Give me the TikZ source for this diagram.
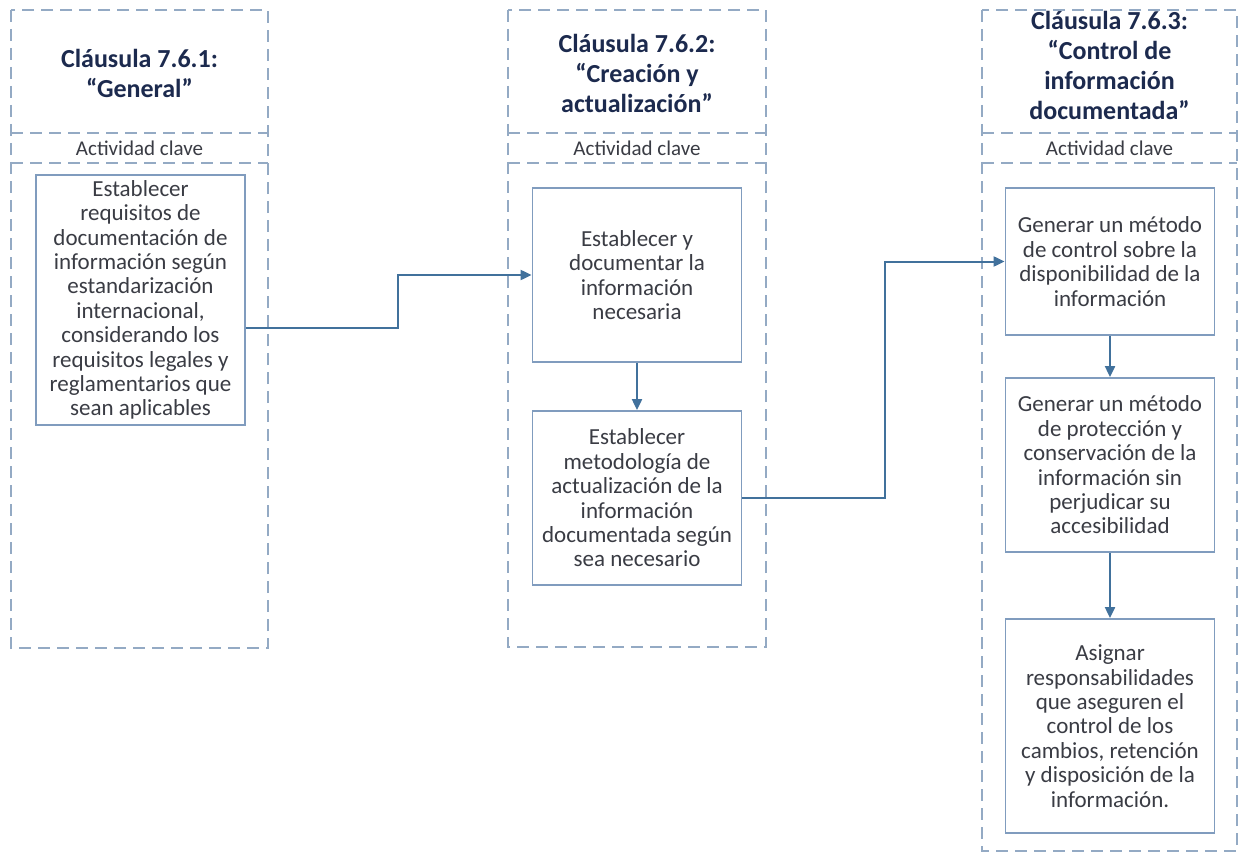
\documentclass[tikz,border=0pt]{standalone}
\usepackage{fontspec}
\setmainfont{Carlito}
\usetikzlibrary{arrows.meta}

\definecolor{framecol}{RGB}{148,170,196}
\definecolor{boxcol}{RGB}{128,156,190}
\definecolor{arrowcol}{RGB}{65,113,156}
\definecolor{titlecol}{RGB}{28,42,78}
\definecolor{textcol}{RGB}{58,60,68}

\tikzset{
  frame/.style={draw=framecol, line width=1.5pt, dash pattern=on 12pt off 7pt},
  divider/.style={draw=framecol, line width=1.5pt, dash pattern=on 12pt off 7pt},
  clausetitle/.style={align=center, text=titlecol, inner sep=0pt,
    font=\fontsize{26}{30}\selectfont\bfseries},
  keylabel/.style={align=center, text=textcol, inner sep=0pt,
    font=\fontsize{21}{24}\selectfont},
  actbox/.style={draw=boxcol, line width=1.8pt, fill=white, align=center,
    text=textcol, inner sep=0pt, minimum width=209pt,
    font=\fontsize{23}{24.4}\selectfont},
  flow/.style={draw=arrowcol, line width=2pt,
    -{Triangle[length=11pt,width=10pt]}}
}

\begin{document}
\begin{tikzpicture}[x=1pt,y=-1pt]
\useasboundingbox[fill=white] (0,0) rectangle (1238,853);

% column frames with their header dividers
\draw[frame] (11,10) rectangle (268,648);
\draw[frame] (508,10) rectangle (766,647);
\draw[frame] (982,10) rectangle (1237,851);
\foreach \xa/\xb in {11/268, 508/766, 982/1237}{
  \draw[divider] (\xa,133) -- (\xb,133);
  \draw[divider] (\xa,163) -- (\xb,163);
}

% clause headings
\node[clausetitle] (t1) at (139.5,73) {Cláusula 7.6.1:\\“General”};
\node[clausetitle] (t2) at (637,73) {Cláusula 7.6.2:\\“Creación y\\actualización”};
\node[clausetitle] (t3) at (1109.5,65) {Cláusula 7.6.3:\\“Control de\\información\\documentada”};

\node[keylabel] (k1) at (139.5,148) {Actividad clave};
\node[keylabel] (k2) at (637,148) {Actividad clave};
\node[keylabel] (k3) at (1109.5,148) {Actividad clave};

% activities
\node[actbox, minimum height=250pt] (c1a) at (140.5,300)
  {Establecer\\requisitos de\\documentación de\\información según\\estandarización\\internacional,\\considerando los\\requisitos legales y\\reglamentarios que\\sean aplicables};

\node[actbox, minimum height=174pt] (c2a) at (637,275)
  {Establecer y\\documentar la\\información\\necesaria};
\node[actbox, minimum height=174pt] (c2b) at (637,498)
  {Establecer\\metodología de\\actualización de la\\información\\documentada según\\sea necesario};

\node[actbox, minimum height=147pt] (c3a) at (1110,261.5)
  {Generar un método\\de control sobre la\\disponibilidad de la\\información};
\node[actbox, minimum height=174pt] (c3b) at (1110,465)
  {Generar un método\\de protección y\\conservación de la\\información sin\\perjudicar su\\accesibilidad};
\node[actbox, minimum height=214pt] (c3c) at (1110,726)
  {Asignar\\responsabilidades\\que aseguren el\\control de los\\cambios, retención\\y disposición de la\\información.};

% connectors
\draw[flow] ([yshift=-28pt]c1a.east) -- ++(152,0) |- (c2a.west);
\draw[flow] (c2a.south) -- (c2b.north);
\draw[flow] (c2b.east) -- ++(143,0) |- (c3a.west);
\draw[flow] (c3a.south) -- (c3b.north);
\draw[flow] (c3b.south) -- (c3c.north);
\end{tikzpicture}
\end{document}
